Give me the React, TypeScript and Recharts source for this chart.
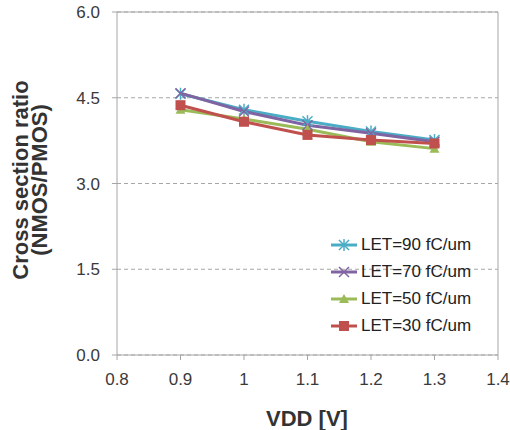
import React from 'react';
import { LineChart, Line, XAxis, YAxis, CartesianGrid, ReferenceLine } from 'recharts';

const vdd = [0.9, 1.0, 1.1, 1.2, 1.3];
const let90 = [4.57, 4.29, 4.09, 3.91, 3.76];
const let70 = [4.58, 4.26, 4.02, 3.88, 3.73];
const let50 = [4.29, 4.13, 3.95, 3.73, 3.61];
const let30 = [4.37, 4.08, 3.85, 3.76, 3.70];
const xTicks = [0.8, 0.9, 1.0, 1.1, 1.2, 1.3, 1.4];
const yTicks = [0, 1.5, 3.0, 4.5, 6.0];

const seriesNames = ['LET=90 fC/um', 'LET=70 fC/um', 'LET=50 fC/um', 'LET=30 fC/um'];

const data = vdd.map((v, i) => ({ vdd: v, s90: let90[i], s70: let70[i], s50: let50[i], s30: let30[i] }));

const FONT = '"Liberation Sans", Arial, sans-serif';
const AXIS = '#a6a6a6';
const TXT = '#3a3a3a';

type Shape = 'star' | 'x' | 'tri' | 'sq';

const seriesDefs: { key: string; name: string; color: string; shape: Shape }[] = [
  { key: 's90', name: seriesNames[0], color: '#4bacc6', shape: 'star' },
  { key: 's70', name: seriesNames[1], color: '#8064a2', shape: 'x' },
  { key: 's50', name: seriesNames[2], color: '#9bbb59', shape: 'tri' },
  { key: 's30', name: seriesNames[3], color: '#c0504d', shape: 'sq' },
];

function Marker({ cx, cy, shape, color }: { cx: number; cy: number; shape: Shape; color: string }) {
  const r = 5;
  if (shape === 'star') {
    return (
      <g stroke={color} strokeWidth={1.5}>
        <line x1={cx - r} y1={cy - r} x2={cx + r} y2={cy + r} />
        <line x1={cx - r} y1={cy + r} x2={cx + r} y2={cy - r} />
        <line x1={cx} y1={cy - r - 1} x2={cx} y2={cy + r + 1} />
      </g>
    );
  }
  if (shape === 'x') {
    return (
      <g stroke={color} strokeWidth={1.5}>
        <line x1={cx - r} y1={cy - r} x2={cx + r} y2={cy + r} />
        <line x1={cx - r} y1={cy + r} x2={cx + r} y2={cy - r} />
      </g>
    );
  }
  if (shape === 'tri') {
    return <path d={`M${cx},${cy - 5} L${cx + 5},${cy + 4} L${cx - 5},${cy + 4} Z`} fill={color} />;
  }
  return <rect x={cx - 5} y={cy - 5} width={10} height={10} fill={color} />;
}

function LegendBox() {
  return (
    <div style={{ position: 'absolute', left: 331, top: 231, fontFamily: FONT, fontSize: 17, color: '#222' }}>
      {seriesDefs.map((s) => (
        <div key={s.key} style={{ display: 'flex', alignItems: 'center', height: 27 }}>
          <svg width={28} height={16} style={{ marginRight: 2 }}>
            <line x1={0} y1={8} x2={26} y2={8} stroke={s.color} strokeWidth={3} />
            <Marker cx={13} cy={8} shape={s.shape} color={s.color} />
          </svg>
          <span style={{ whiteSpace: 'nowrap' }}>{s.name}</span>
        </div>
      ))}
    </div>
  );
}

export default function App() {
  return (
    <div style={{ position: 'absolute', left: 0, top: 0, width: 510, height: 430, background: '#fff' }}>
      <LineChart width={510} height={430} data={data} margin={{ top: 12, right: 12, bottom: 0, left: 0 }}>
        <CartesianGrid vertical={false} stroke={AXIS} strokeDasharray="4 3" />
        <XAxis
          dataKey="vdd"
          type="number"
          domain={[0.8, 1.4]}
          ticks={xTicks}
          height={75}
          stroke={AXIS}
          tickSize={5}
          tickMargin={13}
          tick={{ fill: TXT, fontSize: 17, fontFamily: FONT }}
          tickFormatter={(v: number) => String(v)}
          allowDataOverflow
        />
        <YAxis
          type="number"
          domain={[0, 6]}
          ticks={yTicks}
          width={117}
          stroke={AXIS}
          tickSize={5}
          tickMargin={12}
          tick={{ fill: TXT, fontSize: 17, fontFamily: FONT }}
          tickFormatter={(v: number) => v.toFixed(1)}
        />
        <ReferenceLine y={6} stroke={AXIS} strokeWidth={1} />
        <ReferenceLine x={1.4} stroke={AXIS} strokeWidth={1} />
        {seriesDefs.map((s) => (
          <Line
            key={s.key}
            dataKey={s.key}
            name={s.name}
            stroke={s.color}
            strokeWidth={3}
            isAnimationActive={false}
            dot={(p: any) => <Marker key={`${s.key}-${p.index}`} cx={p.cx} cy={p.cy} shape={s.shape} color={s.color} />}
            activeDot={false}
          />
        ))}
        <text x={307} y={426} textAnchor="middle" fontFamily={FONT} fontSize={22} fontWeight="bold" fill="#333">VDD [V]</text>
        <text x={28} y={180} transform="rotate(-90, 28, 180)" textAnchor="middle" fontFamily={FONT} fontSize={22} fontWeight="bold" fill="#333">Cross section ratio</text>
        <text x={47} y={180} transform="rotate(-90, 47, 180)" textAnchor="middle" fontFamily={FONT} fontSize={22} fontWeight="bold" fill="#333">(NMOS/PMOS)</text>
      </LineChart>
      <LegendBox />
    </div>
  );
}
